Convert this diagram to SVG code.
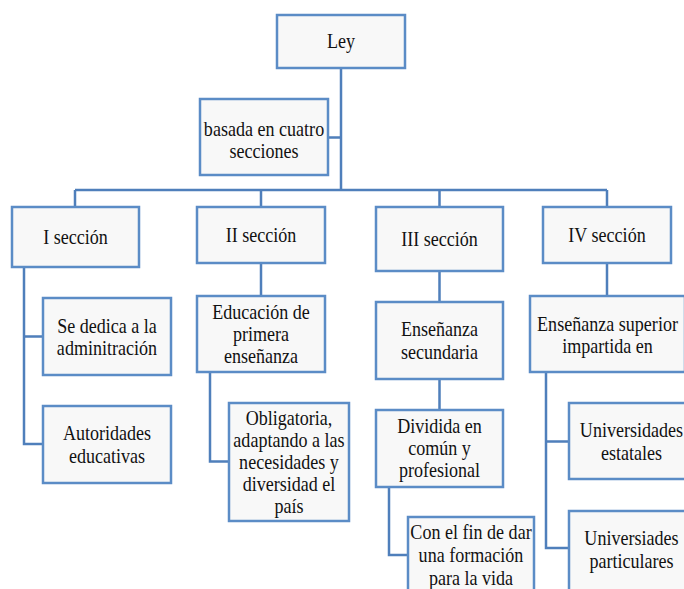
<svg xmlns="http://www.w3.org/2000/svg" width="684" height="589" viewBox="0 0 684 589">
<style>
.box{fill:#f8f8f8;stroke:#5b8cc6;stroke-width:2.5}
.t{font-family:"Liberation Serif","Times New Roman",serif;font-size:21px;fill:#111;text-anchor:middle}
.c{fill:none;stroke:#4f7fbb;stroke-width:2.5}
</style>
<rect width="684" height="589" fill="#fff"/>
<g id="connectors">
<path class="c" d="M341 68V190M328 137.5H341M75 190H607M75 190V207M261 190V207M439.5 190V207M607 190V207"/>
<path class="c" d="M24 267V444H43M24 336.5H43"/>
<path class="c" d="M261 263V296M210 372V461.5H229"/>
<path class="c" d="M439.5 271V302M439.5 379V410M389 487V555H408"/>
<path class="c" d="M607 263V296M546 372V548H569M546 441.5H569"/>
</g>
<g id="ley"><rect class="box" x="277" y="15" width="128" height="53"/>
<text class="t" transform="translate(341,48) scale(0.86,1)">Ley</text></g>
<g id="basada"><rect class="box" x="200" y="99" width="128" height="76"/>
<text class="t" transform="translate(264,136) scale(0.86,1)"><tspan x="0">basada en cuatro</tspan><tspan x="0" dy="22">secciones</tspan></text></g>
<g id="s1"><rect class="box" x="12" y="207" width="127" height="60"/>
<text class="t" transform="translate(75.5,244) scale(0.86,1)">I sección</text></g>
<g id="s2"><rect class="box" x="197" y="207" width="128" height="56"/>
<text class="t" transform="translate(261,242) scale(0.86,1)">II sección</text></g>
<g id="s3"><rect class="box" x="376" y="207" width="127" height="64"/>
<text class="t" transform="translate(439.5,246) scale(0.86,1)">III sección</text></g>
<g id="s4"><rect class="box" x="543" y="207" width="128" height="56"/>
<text class="t" transform="translate(607,242) scale(0.86,1)">IV sección</text></g>
<g id="sededica"><rect class="box" x="43" y="298" width="128" height="77"/>
<text class="t" transform="translate(107,333) scale(0.86,1)"><tspan x="0">Se dedica a la</tspan><tspan x="0" dy="22">adminitración</tspan></text></g>
<g id="autoridades"><rect class="box" x="43" y="406" width="128" height="77"/>
<text class="t" transform="translate(107,440) scale(0.86,1)"><tspan x="0">Autoridades</tspan><tspan x="0" dy="23">educativas</tspan></text></g>
<g id="educacion"><rect class="box" x="197" y="296" width="128" height="76"/>
<text class="t" transform="translate(261,319) scale(0.86,1)"><tspan x="0">Educación de</tspan><tspan x="0" dy="22">primera</tspan><tspan x="0" dy="22">enseñanza</tspan></text></g>
<g id="obligatoria"><rect class="box" x="229" y="403" width="120" height="118"/>
<text class="t" transform="translate(289,425) scale(0.86,1)"><tspan x="0">Obligatoria,</tspan><tspan x="0" dy="22">adaptando a las</tspan><tspan x="0" dy="22">necesidades y</tspan><tspan x="0" dy="22">diversidad el</tspan><tspan x="0" dy="22">país</tspan></text></g>
<g id="ensec"><rect class="box" x="376" y="302" width="127" height="77"/>
<text class="t" transform="translate(439.5,336) scale(0.86,1)"><tspan x="0">Enseñanza</tspan><tspan x="0" dy="23">secundaria</tspan></text></g>
<g id="dividida"><rect class="box" x="376" y="410" width="127" height="77"/>
<text class="t" transform="translate(439.5,433) scale(0.86,1)"><tspan x="0">Dividida en</tspan><tspan x="0" dy="22">común y</tspan><tspan x="0" dy="22">profesional</tspan></text></g>
<g id="confin"><rect class="box" x="408" y="517" width="126" height="80"/>
<text class="t" transform="translate(471,539) scale(0.86,1)"><tspan x="0">Con el fin de dar</tspan><tspan x="0" dy="23">una formación</tspan><tspan x="0" dy="23">para la vida</tspan></text></g>
<g id="ensup"><rect class="box" x="530" y="296" width="155" height="76"/>
<text class="t" transform="translate(607.5,331) scale(0.86,1)"><tspan x="0">Enseñanza superior</tspan><tspan x="0" dy="22">impartida en</tspan></text></g>
<g id="uniest"><rect class="box" x="569" y="403" width="125" height="76"/>
<text class="t" transform="translate(631.5,437) scale(0.86,1)"><tspan x="0">Universidades</tspan><tspan x="0" dy="23">estatales</tspan></text></g>
<g id="unipar"><rect class="box" x="569" y="511" width="125" height="80"/>
<text class="t" transform="translate(631.5,545) scale(0.86,1)"><tspan x="0">Universiades</tspan><tspan x="0" dy="23">particulares</tspan></text></g>
</svg>
